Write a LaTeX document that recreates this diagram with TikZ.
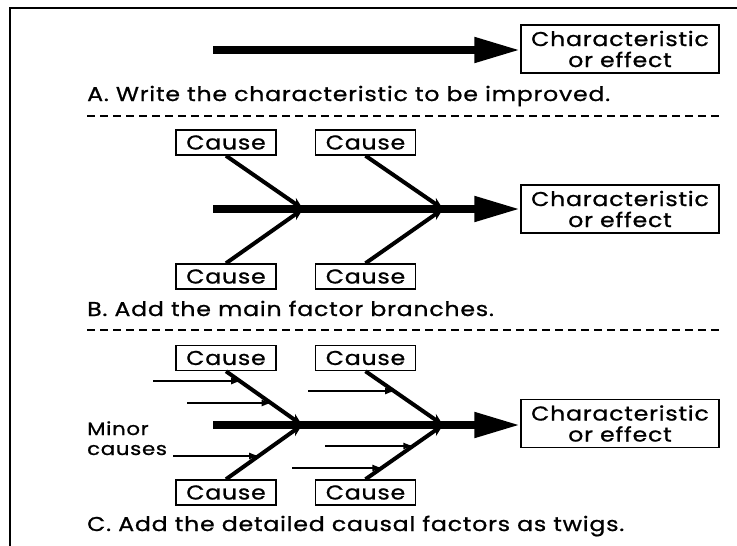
\documentclass[tikz,border=0pt]{standalone}
\usepackage{fontspec}
\setmainfont{Poppins}[FakeStretch=1.18,LetterSpace=4,FakeBold=0.9]
\usetikzlibrary{arrows.meta,calc}
\begin{document}
\begin{tikzpicture}[x=1pt,y=-1pt,
  effbox/.style={draw,line width=1.5pt,minimum width=198pt,minimum height=48pt,inner sep=0pt,align=center,font=\fontsize{20}{21}\selectfont},
  causebox/.style={draw,line width=1.5pt,minimum width=100pt,minimum height=25pt,inner sep=0pt,font=\fontsize{20}{21}\selectfont},
  caption/.style={anchor=base west,inner sep=0pt,font=\fontsize{20}{21}\selectfont},
  minorlbl/.style={anchor=base west,inner sep=0pt,font=\fontsize{18}{18}\selectfont},
  spine/.style={line width=8pt,-{Triangle[length=46pt,width=24pt]}},
  branch/.style={line width=4pt,-{Stealth[length=12pt,width=10pt]}},
  twig/.style={line width=1.4pt,-{Latex[length=10pt,width=7pt]}},
  sep/.style={line width=1.5pt,dash pattern=on 8pt off 5pt}]
\useasboundingbox (0,0) rectangle (737,546);
\fill[white] (0,0) rectangle (737,546);
\draw[line width=2pt] (10,546) -- (10,8) -- (737,8);

% ---------- A ----------
\node[effbox] (effA) at (620,49) {Characteristic\\or effect};
\coordinate (sA) at (213,50);
\draw[spine] (sA) -- (sA -| effA.west);
\node[caption] (capA) at (87,101) {A. Write the characteristic to be improved.};
\draw[sep] (87,116) -- (719,116);

% ---------- B ----------
\node[causebox] (bu1) at (226,142.5) {Cause};
\node[causebox] (bu2) at (365.5,142.5) {Cause};
\node[causebox] (bl1) at (226,276.5) {Cause};
\node[causebox] (bl2) at (365.5,276.5) {Cause};
\node[effbox] (effB) at (620,209) {Characteristic\\or effect};
\coordinate (sB) at (213,209);
\coordinate (jb1) at (303,209);
\coordinate (jb2) at (443,209);
\draw[spine] (sB) -- (sB -| effB.west);
\draw[branch] (bu1.south) -- (jb1);
\draw[branch] (bl1.north) -- (jb1);
\draw[branch] (bu2.south) -- (jb2);
\draw[branch] (bl2.north) -- (jb2);
\node[caption] (capB) at (87,316) {B. Add the main factor branches.};
\draw[sep] (87,330) -- (719,330);

% ---------- C ----------
\node[causebox] (cu1) at (226,358) {Cause};
\node[causebox] (cu2) at (365.5,358) {Cause};
\node[causebox] (cl1) at (226,492.5) {Cause};
\node[causebox] (cl2) at (365.5,492.5) {Cause};
\node[effbox] (effC) at (620,423.5) {Characteristic\\or effect};
\coordinate (sC) at (213,425);
\coordinate (jc1) at (302,425);
\coordinate (jc2) at (443,425);
\draw[spine] (sC) -- (sC -| effC.west);
\draw[branch] (cu1.south) -- (jc1);
\draw[branch] (cl1.north) -- (jc1);
\draw[branch] (cu2.south) -- (jc2);
\draw[branch] (cl2.north) -- (jc2);

% twigs
\coordinate (e1) at ($(cu1.south)!0.2!(jc1)$);
\coordinate (e2) at ($(cu1.south)!0.6!(jc1)$);
\coordinate (e3) at ($(cl1.north)!0.436!(jc1)$);
\coordinate (e4) at ($(cu2.south)!0.382!(jc2)$);
\coordinate (e5) at ($(cl2.north)!0.618!(jc2)$);
\coordinate (e6) at ($(cl2.north)!0.218!(jc2)$);
\coordinate (s1) at (153,381);
\coordinate (s2) at (187,403);
\coordinate (s3) at (173,456);
\coordinate (s4) at (308,391);
\coordinate (s5) at (325,446);
\coordinate (s6) at (292,468);
\foreach \i in {1,...,6} { \draw[twig] (s\i) -- (s\i -| e\i); }

\node[minorlbl] (minor1) at (87,435) {Minor};
\node[minorlbl] (minor2) at (87,455) {causes};
\node[caption] (capC) at (87,531) {C. Add the detailed causal factors as twigs.};
\end{tikzpicture}
\end{document}
